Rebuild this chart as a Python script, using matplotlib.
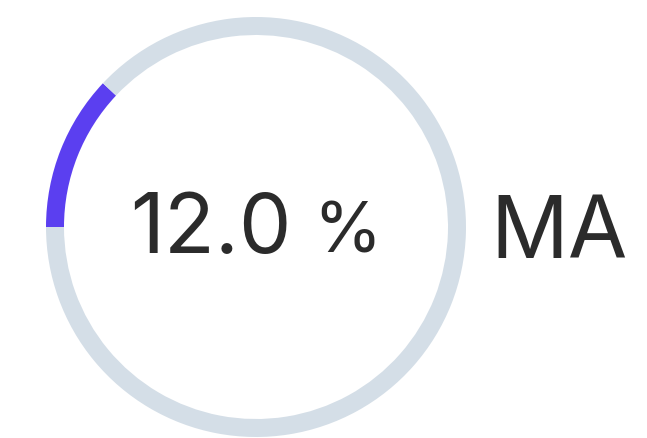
import matplotlib
matplotlib.use("Agg")
import matplotlib.pyplot as plt

# gauge data
value = 12.0
labels = ["12.0", "%", "MA"]
shares = [value, 100 - value]

W, H = 647, 439
fig = plt.figure(figsize=(W / 100, H / 100), dpi=100)
ax = fig.add_axes([0, 0, 1, 1])

cx, cy = 256, H - 228
ax.pie(shares, colors=["#5b3ff0", "#d4dee7"], startangle=180, counterclock=False,
       radius=210, center=(cx, cy), wedgeprops=dict(width=18, linewidth=0))

ax.set_xlim(0, W); ax.set_ylim(0, H)
ax.set_aspect("equal")
ax.axis("off")

fnt = ["Inter", "DejaVu Sans"]
ax.text(211, H - 253, labels[0], fontsize=60, family=fnt, color="#2b2b2b",
        ha="center", va="baseline")
ax.text(347, H - 253, labels[1], fontsize=50, family=fnt, color="#2b2b2b",
        ha="center", va="baseline")
ax.text(559, H - 258, labels[2], fontsize=62, family=fnt, color="#2b2b2b",
        ha="center", va="baseline")

fig.savefig("out.png", dpi=100)
